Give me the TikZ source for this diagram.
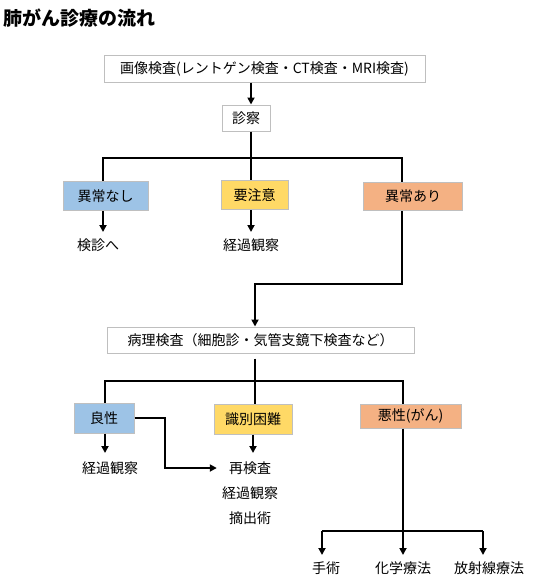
\documentclass[tikz,border=0pt]{standalone}
\usepackage{fontspec}
\setmainfont{Noto Sans CJK JP}
\usetikzlibrary{arrows.meta}
\definecolor{boxgray}{HTML}{BFBFBF}
\definecolor{cblue}{HTML}{9DC3E6}
\definecolor{cyellow}{HTML}{FFD966}
\definecolor{corange}{HTML}{F4B183}
\begin{document}
\begin{tikzpicture}[x=1pt,y=-1pt,
  every node/.style={font=\fontsize{14}{16}\selectfont, inner sep=0pt},
  wbox/.style={draw=boxgray, line width=1pt, fill=white, anchor=center},
  bluebox/.style={wbox, fill=cblue},
  yelbox/.style={wbox, fill=cyellow},
  orabox/.style={wbox, fill=corange},
  conn/.style={line width=1.8pt, black},
  arr/.style={conn, -{Triangle[length=7pt,width=7pt]}},
  lbl/.style={anchor=center}
]
\useasboundingbox (0,0) rectangle (539,586);
\node[anchor=west, font=\fontsize{19}{22}\selectfont\bfseries] (title) at (3,18) {肺がん診療の流れ};

% top boxes
\node[wbox, minimum width=321, minimum height=26] (b1) at (264.5,69) {画像検査(レントゲン検査・CT検査・MRI検査)};
\node[wbox, minimum width=48, minimum height=26] (b2) at (246,118) {診察};

\coordinate (x1) at (251,0);
\draw[arr] (x1 |- b1.south) -- (x1 |- b2.north);

\node[bluebox, minimum width=85, minimum height=29] (n1) at (105.5,196) {異常なし};
\node[yelbox, minimum width=67, minimum height=29] (n2) at (254.5,195) {要注意};
\node[orabox, minimum width=99, minimum height=28] (n3) at (413,196.5) {異常あり};

\coordinate (h1) at (0,158);
\coordinate (xa) at (103,0);
\coordinate (xc) at (402,0);
\draw[conn] (x1 |- b2.south) -- (x1 |- n2.north);
\draw[conn] (xa |- n1.north) -- (xa |- h1) -- (xc |- h1) -- (xc |- n3.north);

\node[lbl] (t1) at (98,245) {検診へ};
\node[lbl] (t2) at (251,245) {経過観察};
\coordinate (e1) at (0,232);
\draw[arr] (xa |- n1.south) -- (xa |- e1);
\draw[arr] (x1 |- n2.south) -- (x1 |- e1);

% pathology
\node[wbox, minimum width=307, minimum height=26] (b3) at (260.5,340) {病理検査（細胞診・気管支鏡下検査など）};
\coordinate (h2) at (0,284);
\coordinate (x2) at (255,0);
\draw[arr] (xc |- n3.south) -- (xc |- h2) -- (x2 |- h2) -- (x2 |- b3.north);

\node[bluebox, minimum width=60, minimum height=30] (m1) at (104,418) {良性};
\node[yelbox, minimum width=78, minimum height=30] (m2) at (253,419) {識別困難};
\node[orabox, minimum width=101, minimum height=24] (m3) at (410.5,416) {悪性(がん)};

\coordinate (h3) at (0,381);
\coordinate (xb) at (105,0);
\coordinate (xd) at (403,0);
\draw[conn] ([yshift=-5pt]x2 |- b3.south) -- (x2 |- m2.north);
\draw[conn] (xb |- m1.north) -- (xb |- h3) -- (xd |- h3) -- (xd |- m3.north);

\node[lbl] (u1) at (110,468) {経過観察};
\node[lbl] (u2) at (250,468) {再検査};
\node[lbl] (u3) at (250,493) {経過観察};
\node[lbl] (u4) at (250,518) {摘出術};
\coordinate (x3) at (253,0);
\coordinate (e2) at (0,453);
\draw[arr] (xb |- m1.south) -- (xb |- e2);
\draw[arr] (x3 |- m2.south) -- (x3 |- e2);
\coordinate (xe) at (165,0);
\draw[arr] (m1.east) -- (xe |- m1.east) -- (xe |- u2) -- ([xshift=-12pt]u2.west);

% treatments
\node[lbl] (v1) at (326,568) {手術};
\node[lbl] (v2) at (403,568) {化学療法};
\node[lbl] (v3) at (489,568) {放射線療法};
\coordinate (h4) at (0,531);
\coordinate (e3) at (0,555);
\coordinate (xf) at (322,0);
\coordinate (xg) at (483,0);
\draw[arr] (xd |- m3.south) -- (xd |- e3);
\draw[arr] (xf |- h4) -- (xf |- e3);
\draw[arr] (xg |- h4) -- (xg |- e3);
\draw[conn] (xf |- h4) -- (xg |- h4);
\end{tikzpicture}
\end{document}
